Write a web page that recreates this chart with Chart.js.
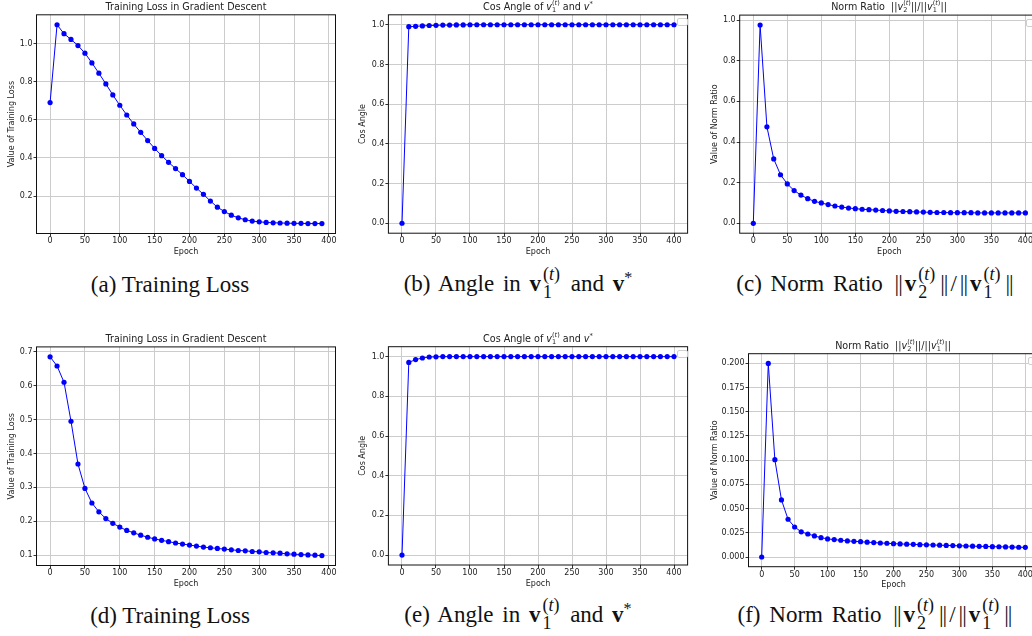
<!DOCTYPE html>
<html>
<head>
<meta charset="utf-8">
<script src="https://cdn.jsdelivr.net/npm/chart.js@4.4.1/dist/chart.umd.min.js"></script>
<style>
  body { margin: 0; background: #fff; }
  #page { position: relative; width: 1032px; height: 636px; overflow: hidden; background: #fff; }
  canvas { position: absolute; }
  .ttl { position: absolute; font-family: "DejaVu Sans", sans-serif; font-size: 9.6px; color: #222;
         white-space: nowrap; transform: translate(-50%, -50%); line-height: 1; }
  .cap { position: absolute; font-family: "Liberation Serif", serif; font-size: 23px; color: #111;
         white-space: nowrap; transform: translate(-50%, -50%); line-height: 1; }
  .cap.m { word-spacing: 3px; }
  .ss { display: inline-block; vertical-align: -0.35em; line-height: 1; font-size: 0.68em; text-align: left; }
  .ss span { display: block; }
  .cap .ss { font-size: 0.78em; vertical-align: -0.38em; margin: 0 2px; }
  .nb { letter-spacing: -1px; margin: 0 3px; }
  .lg { position: absolute; background: #fff; border: 1px solid #cfcfcf; border-radius: 2px; }
</style>
</head>
<body>
<div id="page">
  <canvas id="chA"></canvas>
  <canvas id="chB"></canvas>
  <canvas id="chC"></canvas>
  <canvas id="chD"></canvas>
  <canvas id="chE"></canvas>
  <canvas id="chF"></canvas>

  <div class="ttl" style="left:186px; top:7px;">Training Loss in Gradient Descent</div>
  <div class="ttl" style="left:538px; top:7px;">Cos Angle of <i>v</i><span class="ss"><span>(<i>t</i>)</span><span>1</span></span> and <i>v</i><sup style="font-size:0.7em">*</sup></div>
  <div class="ttl" style="left:889px; top:7px;">Norm Ratio&nbsp; ||<i>v</i><span class="ss"><span>(<i>t</i>)</span><span>2</span></span>||/||<i>v</i><span class="ss"><span>(<i>t</i>)</span><span>1</span></span>||</div>
  <div class="ttl" style="left:186px; top:339px;">Training Loss in Gradient Descent</div>
  <div class="ttl" style="left:538px; top:339px;">Cos Angle of <i>v</i><span class="ss"><span>(<i>t</i>)</span><span>1</span></span> and <i>v</i><sup style="font-size:0.7em">*</sup></div>
  <div class="ttl" style="left:893px; top:346px;">Norm Ratio&nbsp; ||<i>v</i><span class="ss"><span>(<i>t</i>)</span><span>2</span></span>||/||<i>v</i><span class="ss"><span>(<i>t</i>)</span><span>1</span></span>||</div>

  <div class="lg" style="left:677px; top:18px; width:9px; height:6px;"></div>
  <div class="lg" style="left:1026px; top:19px; width:12px; height:6px;"></div>
  <div class="lg" style="left:677px; top:350px; width:9px; height:6px;"></div>
  <div class="lg" style="left:1028px; top:357px; width:12px; height:6px;"></div>

  <div class="cap" style="left:170px; top:284px;">(a) Training Loss</div>
  <div class="cap m" style="left:518px; top:284px;">(b) Angle in <b>v</b><span class="ss"><span>(<i>t</i>)</span><span>1</span></span> and <b>v</b><sup style="font-size:0.7em">*</sup></div>
  <div class="cap m" style="left:876px; top:284px;">(c) Norm Ratio <span class="nb">||</span><b>v</b><span class="ss"><span>(<i>t</i>)</span><span>2</span></span><span class="nb">||</span>/<span class="nb">||</span><b>v</b><span class="ss"><span>(<i>t</i>)</span><span>1</span></span><span class="nb">||</span></div>
  <div class="cap" style="left:170px; top:615px;">(d) Training Loss</div>
  <div class="cap m" style="left:518px; top:615px;">(e) Angle in <b>v</b><span class="ss"><span>(<i>t</i>)</span><span>1</span></span> and <b>v</b><sup style="font-size:0.7em">*</sup></div>
  <div class="cap m" style="left:876px; top:615px;">(f) Norm Ratio <span class="nb">||</span><b>v</b><span class="ss"><span>(<i>t</i>)</span><span>2</span></span><span class="nb">||</span>/<span class="nb">||</span><b>v</b><span class="ss"><span>(<i>t</i>)</span><span>1</span></span><span class="nb">||</span></div>
</div>

<script>
// epochs
const epochs40 = [0, 10, 20, 30, 40, 50, 60, 70, 80, 90, 100, 110, 120, 130, 140, 150, 160, 170, 180, 190,
  200, 210, 220, 230, 240, 250, 260, 270, 280, 290, 300, 310, 320, 330, 340, 350, 360, 370, 380, 390];
const epochs41 = [0, 10, 20, 30, 40, 50, 60, 70, 80, 90, 100, 110, 120, 130, 140, 150, 160, 170, 180, 190,
  200, 210, 220, 230, 240, 250, 260, 270, 280, 290, 300, 310, 320, 330, 340, 350, 360, 370, 380, 390, 400];

// (a) training loss, top row
const lossA = [0.69, 1.098, 1.051, 1.021, 0.989, 0.949, 0.898, 0.844, 0.788, 0.730, 0.676, 0.625, 0.578, 0.534,
  0.491, 0.450, 0.412, 0.377, 0.344, 0.312, 0.277, 0.242, 0.209, 0.174, 0.142, 0.119, 0.100, 0.086, 0.076,
  0.069, 0.065, 0.062, 0.060, 0.059, 0.058, 0.057, 0.057, 0.056, 0.056, 0.056];
// (b) cos angle, top row
const cosB = [0, 0.990, 0.992, 0.994, 0.996, 0.997, 0.998, 0.998, 0.999, 0.999, 1, 1, 1, 1, 1, 1, 1, 1, 1, 1,
  1, 1, 1, 1, 1, 1, 1, 1, 1, 1, 1, 1, 1, 1, 1, 1, 1, 1, 1, 1, 1];
// (c) norm ratio, top row
const normC = [0, 0.976, 0.475, 0.317, 0.239, 0.194, 0.161, 0.139, 0.121, 0.108, 0.100, 0.092, 0.085, 0.080,
  0.075, 0.072, 0.069, 0.067, 0.065, 0.063, 0.061, 0.059, 0.058, 0.057, 0.056, 0.055, 0.054, 0.053, 0.053,
  0.052, 0.052, 0.052, 0.052, 0.051, 0.051, 0.051, 0.051, 0.051, 0.051, 0.051, 0.051];
// (d) training loss, bottom row
const lossD = [0.685, 0.658, 0.610, 0.495, 0.369, 0.297, 0.254, 0.228, 0.208, 0.194, 0.183, 0.173, 0.166, 0.159,
  0.153, 0.148, 0.144, 0.140, 0.136, 0.133, 0.130, 0.127, 0.124, 0.122, 0.120, 0.118, 0.116, 0.114, 0.113,
  0.111, 0.110, 0.108, 0.107, 0.106, 0.104, 0.103, 0.102, 0.101, 0.100, 0.099];
// (e) cos angle, bottom row
const cosE = [0, 0.971, 0.985, 0.993, 0.998, 0.999, 1, 1, 1, 1, 1, 1, 1, 1, 1, 1, 1, 1, 1, 1,
  1, 1, 1, 1, 1, 1, 1, 1, 1, 1, 1, 1, 1, 1, 1, 1, 1, 1, 1, 1, 1];
// (f) norm ratio, bottom row
const normF = [0, 0.200, 0.1005, 0.059, 0.039, 0.031, 0.026, 0.0238, 0.0218, 0.020, 0.0187, 0.018, 0.0173,
  0.0166, 0.0162, 0.0158, 0.0153, 0.0149, 0.0145, 0.0142, 0.0138, 0.0135, 0.0133, 0.0131, 0.0128, 0.0126,
  0.0124, 0.0122, 0.0120, 0.0118, 0.0116, 0.0114, 0.0112, 0.0110, 0.0109, 0.0107, 0.0106, 0.0104, 0.0103,
  0.0101, 0.0100];

// tick labels
const xTicks = [0, 50, 100, 150, 200, 250, 300, 350, 400];
const yTicksA = [0.2, 0.4, 0.6, 0.8, 1.0];
const yTicksUnit = [0, 0.2, 0.4, 0.6, 0.8, 1.0];
const yTicksD = [0.1, 0.2, 0.3, 0.4, 0.5, 0.6, 0.7];
const yTicksF = [0, 0.025, 0.05, 0.075, 0.1, 0.125, 0.15, 0.175, 0.2];

const FONT = { family: "DejaVu Sans", size: 8 };
const TXT = "#222";

// full box around the plot like matplotlib
const framePlugin = {
  id: "frame",
  afterDraw(chart) {
    const { ctx, chartArea: a } = chart;
    ctx.save();
    ctx.strokeStyle = "#111";
    ctx.lineWidth = 1;
    ctx.strokeRect(a.left, a.top, a.right - a.left, a.bottom - a.top);
    ctx.restore();
  },
};

const makePanel = (p) => {
  const el = document.getElementById(p.id);
  el.width = p.box[2];
  el.height = p.box[3];
  el.style.left = p.box[0] + "px";
  el.style.top = p.box[1] + "px";
  const [cx, cy, cw, ch] = p.box;
  const [L, T, R, B] = p.plot;

  new Chart(el, {
    type: "line",
    data: {
      datasets: [
        {
          data: p.xs.map((x, i) => ({ x: x, y: p.ys[i] })),
          borderColor: "#0000ff",
          backgroundColor: "#0000ff",
          borderWidth: 1,
          pointRadius: 2.6,
          pointBorderWidth: 0,
          pointBackgroundColor: "#0000ff",
          tension: 0,
          clip: 6,
        },
      ],
    },
    options: {
      responsive: false,
      animation: false,
      events: [],
      layout: { padding: { left: 0, top: T - cy, right: cx + cw - R, bottom: 0 } },
      plugins: { legend: { display: false }, tooltip: { enabled: false }, title: { display: false } },
      scales: {
        x: {
          type: "linear",
          bounds: "data",
          min: p.xRange[0],
          max: p.xRange[1],
          afterBuildTicks: (s) => { s.ticks = xTicks.map((v) => ({ value: v })); },
          afterFit: (s) => { s.height = cy + ch - B; },
          ticks: { font: FONT, color: TXT, padding: 0, autoSkip: false, maxRotation: 0,
                   callback: (v) => String(v) },
          grid: { color: "#cccccc", lineWidth: 1, tickLength: 3, tickColor: "#333", tickWidth: 1 },
          border: { display: false },
          title: { display: true, text: "Epoch", font: FONT, color: TXT,
                   padding: { top: 0, bottom: cy + ch - 4.8 - p.epochY } },
        },
        y: {
          type: "linear",
          bounds: "data",
          min: p.yRange[0],
          max: p.yRange[1],
          afterBuildTicks: (s) => { s.ticks = p.yTicks.map((v) => ({ value: v })); },
          afterFit: (s) => { s.width = L - cx; },
          ticks: { font: FONT, color: TXT, padding: 1, autoSkip: false,
                   callback: (v) => v.toFixed(p.dec) },
          grid: { color: "#cccccc", lineWidth: 1, tickLength: 3, tickColor: "#333", tickWidth: 1 },
          border: { display: false },
          title: { display: true, text: p.yLabel, font: FONT, color: TXT,
                   padding: { top: p.yTitleX - cx - 4.8, bottom: 0 } },
        },
      },
    },
    plugins: [framePlugin],
  });
};

makePanel({ id: "chA", box: [0, 0, 345, 262], plot: [36.5, 14.8, 335.5, 233.5], yTitleX: 11.7, epochY: 251.5,
  xs: epochs40, ys: lossA, xRange: [-19.5, 409.5], yRange: [0.0039, 1.1501], yTicks: yTicksA, dec: 1,
  yLabel: "Value of Training Loss" });
makePanel({ id: "chB", box: [348, 0, 348, 262], plot: [388.4, 14.8, 687.6, 233.2], yTitleX: 363.3, epochY: 251.5,
  xs: epochs41, ys: cosB, xRange: [-20, 420], yRange: [-0.05, 1.05], yTicks: yTicksUnit, dec: 1,
  yLabel: "Cos Angle" });
makePanel({ id: "chC", box: [698, 0, 352, 262], plot: [739.7, 15.1, 1039, 233.2], yTitleX: 714.7, epochY: 251.5,
  xs: epochs41, ys: normC, xRange: [-20, 420], yRange: [-0.0488, 1.0248], yTicks: yTicksUnit, dec: 1,
  yLabel: "Value of Norm Ratio" });
makePanel({ id: "chD", box: [0, 320, 345, 275], plot: [36.5, 346.9, 335.5, 565.5], yTitleX: 11.7, epochY: 584.3,
  xs: epochs40, ys: lossD, xRange: [-19.5, 409.5], yRange: [0.0697, 0.7143], yTicks: yTicksD, dec: 1,
  yLabel: "Value of Training Loss" });
makePanel({ id: "chE", box: [348, 320, 348, 275], plot: [388.4, 346.7, 687.6, 565], yTitleX: 363.3, epochY: 584.3,
  xs: epochs41, ys: cosE, xRange: [-20, 420], yRange: [-0.05, 1.05], yTicks: yTicksUnit, dec: 1,
  yLabel: "Cos Angle" });
makePanel({ id: "chF", box: [698, 320, 352, 275], plot: [748.5, 353.7, 1038.5, 566.7], yTitleX: 714.7, epochY: 585,
  xs: epochs41, ys: normF, xRange: [-20, 420], yRange: [-0.01, 0.21], yTicks: yTicksF, dec: 3,
  yLabel: "Value of Norm Ratio" });
</script>
</body>
</html>
